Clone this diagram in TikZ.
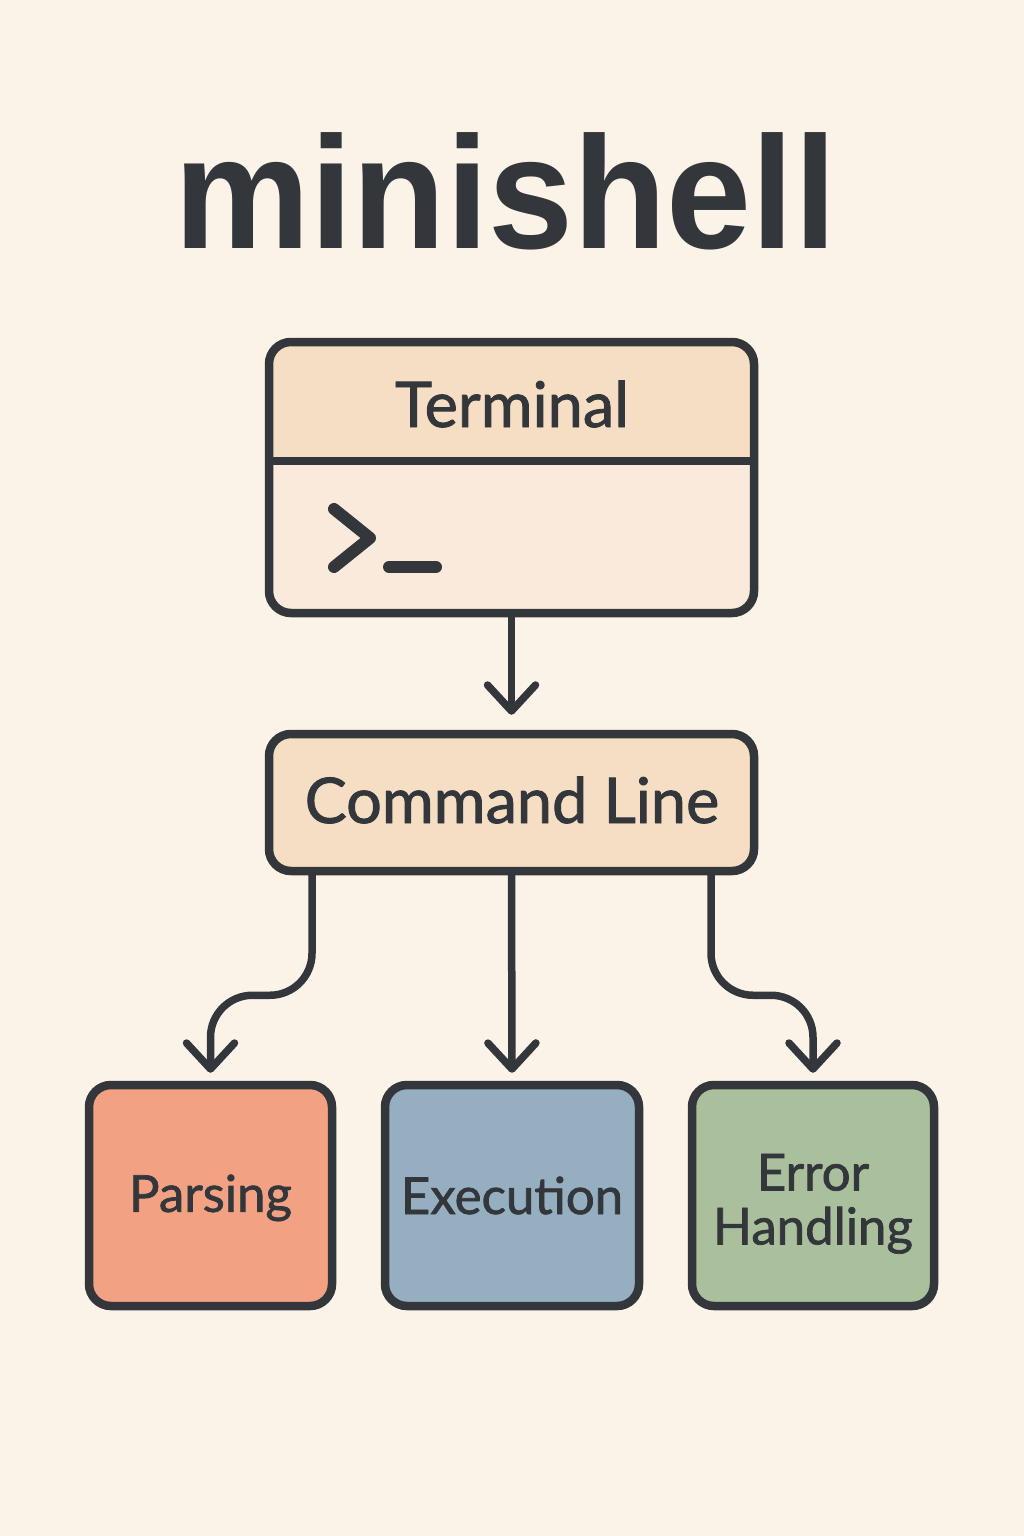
\documentclass[tikz,border=0pt]{standalone}
\usepackage{fontspec}
\setmainfont{Lato}[FakeBold=1.4]
\newfontfamily\titlefont{Liberation Sans}
\usetikzlibrary{arrows.meta}
\definecolor{bgc}{HTML}{FCF3E8}
\definecolor{ink}{HTML}{33373B}
\definecolor{hdr}{HTML}{F6DEC4}
\definecolor{bodyc}{HTML}{F9EADB}
\definecolor{parc}{HTML}{F2A283}
\definecolor{exec}{HTML}{95AFC0}
\definecolor{errc}{HTML}{AABF9C}
\begin{document}
\begin{tikzpicture}[x=1pt,y=-1pt,
  box/.style={draw=ink, line width=8.5pt, rounded corners=22pt, text=ink, align=center, inner sep=0pt,
    font=\fontsize{51}{54}\selectfont},
  label/.style={text=ink, inner sep=0pt, anchor=base, font=\fontsize{63}{70}\selectfont},
  conn/.style={draw=ink, line width=7.5pt, line cap=round, line join=round,
    -{Straight Barb[length=26pt,width=48pt,round]}}]
\useasboundingbox (0,0) rectangle (1024,1536);
\fill[bgc] (0,0) rectangle (1024,1536);

% title
\node[text=ink, anchor=base, inner sep=0pt, xscale=0.955,
  font=\titlefont\bfseries\fontsize{160}{160}\selectfont] (title) at (505.5,248) {minishell};

% terminal window
\begin{scope}
  \clip[rounded corners=22pt] (269,342) rectangle (754,613);
  \fill[hdr] (269,342) rectangle (754,461);
  \fill[bodyc] (269,461) rectangle (754,613);
\end{scope}
\node[draw=ink, line width=8.5pt, rounded corners=22pt, minimum width=485pt, minimum height=271pt, inner sep=0pt]
  (term) at (511.5,477.5) {};
\draw[ink, line width=8.5pt] (term.west |- 0,461) -- (term.east |- 0,461);
\node[label] (termlabel) at (512,427) {Terminal};
\draw[ink, line width=12pt, line cap=round, line join=round] (334,509) -- (370,538) -- (334,567);
\draw[ink, line width=12pt, line cap=round] (389,567) -- (436,567);

% command line
\node[box, fill=hdr, minimum width=485pt, minimum height=137pt] (cmd) at (511.5,802.5) {};
\node[label] (cmdlabel) at (512,823) {Command Line};

% bottom boxes
\node[box, fill=parc, minimum width=243pt, minimum height=221pt] (par) at (210.5,1195.5) {\rule{0pt}{42pt}Parsing};
\node[box, fill=exec, minimum width=254pt, minimum height=221pt] (exe) at (512,1195.5) {Execution};
\node[box, fill=errc, minimum width=242pt, minimum height=221pt] (err) at (813,1195.5)
  {\begin{tabular}{@{}c@{}}\rule{0pt}{60pt}Error\\Handling\end{tabular}};

% connectors
\draw[conn] (term.south) -- ([yshift=15pt]cmd.north);
\draw[conn, rounded corners=42pt] ([xshift=-199.5pt]cmd.south) -- ++(0,120) -| ([yshift=8pt]par.north);
\draw[conn] (cmd.south) -- ([yshift=8pt]exe.north);
\draw[conn, rounded corners=42pt] ([xshift=199.5pt]cmd.south) -- ++(0,120) -| ([yshift=8pt]err.north);
\end{tikzpicture}
\end{document}
